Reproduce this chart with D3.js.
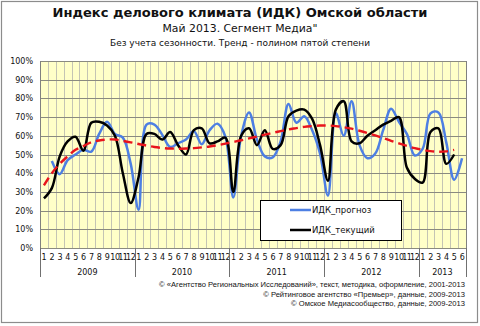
<!DOCTYPE html>
<html>
<head>
<meta charset="utf-8">
<script src="https://cdn.jsdelivr.net/npm/d3@7/dist/d3.min.js"></script>
<style>
  body { margin: 0; background: #fff; }
  svg { display: block; }
  text { font-family: "DejaVu Sans", Verdana, sans-serif; fill: #111; }
</style>
</head>
<body>
<script>
// ---- data ----
const yearLabels = ["2009", "2010", "2011", "2012", "2013"];
const monthsPerYear = [12, 12, 12, 12, 6];
const yTicks = [0, 10, 20, 30, 40, 50, 60, 70, 80, 90, 100];

// ИДК_прогноз (%), one value per month starting Jan 2009
const forecast = [
  null, 46.5, 39.5, 47, 50, 52.5, 51.5, 61, 67.5, 61, 59, 45,
  20.5, 66, 66, 60.5, 54, 56, 58, 62.5, 55.5, 63, 66.5, 59.5,
  27, 60, 72.5, 58, 49, 48.5, 57, 77, 67, 70.5, 63, 50.5,
  28, 72, 60, 78.5, 55, 48, 50.5, 63, 74.5, 67.5, 61, 49.5,
  53, 72, 72.5, 56.5, 36.5, 48
];
// ИДК_текущий (%)
const current = [
  26.5, 32, 49, 57, 59.5, 52, 67, 67.5, 65.5, 60, 40, 24,
  38, 61, 61, 58, 62, 55, 50, 63, 64, 56, 57, 59,
  30, 60, 64, 55, 63, 53, 55, 70.5, 73.5, 74, 69, 55,
  36, 74, 78.5, 57, 56, 60, 63, 66, 68, 70, 43, 37,
  35, 62, 64, 45, 50, null
];
// trend of ИДК_текущий (%)
const trend = [
  33.5, 40, 45, 49, 52.5, 54.5, 56.5, 57.5, 58, 58, 57.3, 56.5,
  55.6, 54.8, 54, 53.5, 53.2, 53.1, 53.2, 53.4, 53.8, 54.3, 55, 55.8,
  56.7, 57.6, 58.6, 59.6, 60.6, 61.6, 62.5, 63.4, 64.1, 64.8, 65.2, 65.5,
  65.5, 65.2, 64.6, 63.8, 62.7, 61.5, 60.2, 58.8, 57.3, 55.9, 54.6, 53.4,
  52.5, 51.8, 51.5, 51.7, 52.5, null
];

const seriesNames = ["ИДК_прогноз", "ИДК_текущий"];
const titleLines = [
  "Индекс делового климата (ИДК) Омской области",
  "Май 2013. Сегмент Медиа\"",
  "Без учета сезонности. Тренд - полином пятой степени"
];
const credits = [
  "© «Агентство Региональных Исследований», текст, методика, оформление, 2001-2013",
  "© Рейтинговое агентство «Премьер», данные, 2009-2013",
  "© Омское Медиасообщество, данные, 2009-2013"
];

// ---- layout ----
const W = 480, H = 326;
const plot = { left: 40, right: 466, top: 61, bottom: 248 };

// categories: one per month
const categories = [];
yearLabels.forEach((yr, yi) => {
  for (let m = 1; m <= monthsPerYear[yi]; m++) categories.push({ key: yr + "-" + m, month: m, year: yr });
});
const keys = categories.map(c => c.key);

const svg = d3.select("body").append("svg").attr("width", W).attr("height", H);

// outer frame
svg.append("rect").attr("x", 1.5).attr("y", 1.5).attr("width", W - 4).attr("height", H - 5)
  .attr("fill", "#fff").attr("stroke", "#8c8c8c").attr("stroke-width", 1.2);

const x = d3.scaleBand().domain(keys).range([plot.left, plot.right]).padding(0);
const bw = x.bandwidth();
const y = d3.scaleLinear().domain([0, 100]).range([plot.bottom, plot.top]);

// plot background
svg.append("rect").attr("x", plot.left).attr("y", plot.top)
  .attr("width", plot.right - plot.left).attr("height", plot.bottom - plot.top)
  .attr("fill", "#FFFFC8");

// vertical grid at month boundaries
const vb = keys.map(k => x(k)).concat([plot.right]);
svg.append("g").selectAll("line").data(vb).join("line")
  .attr("x1", d => Math.round(d) + 0.5).attr("x2", d => Math.round(d) + 0.5)
  .attr("y1", plot.top).attr("y2", plot.bottom)
  .attr("stroke", "#c4c4b4").attr("stroke-width", 1);

// horizontal grid
svg.append("g").selectAll("line").data(yTicks).join("line")
  .attr("x1", plot.left).attr("x2", plot.right)
  .attr("y1", d => Math.round(y(d)) + 0.5).attr("y2", d => Math.round(y(d)) + 0.5)
  .attr("stroke", "#8a8a80").attr("stroke-width", 1);

// left / right plot edges
svg.append("line").attr("x1", plot.left + 0.5).attr("x2", plot.left + 0.5)
  .attr("y1", plot.top).attr("y2", plot.bottom).attr("stroke", "#808080");
svg.append("line").attr("x1", Math.round(plot.right) + 0.5).attr("x2", Math.round(plot.right) + 0.5)
  .attr("y1", plot.top).attr("y2", plot.bottom).attr("stroke", "#808080");

// y axis labels
const yAxis = d3.axisLeft(y).tickValues(yTicks).tickFormat(d => d + "%").tickSize(0).tickPadding(7);
const gy = svg.append("g").attr("transform", `translate(${plot.left},0)`).call(yAxis);
gy.select(".domain").remove();
gy.selectAll("text").style("font-size", "8px").style("font-family", "DejaVu Sans, Verdana, sans-serif").attr("fill", "#222");

// x axis month labels
const xAxis = d3.axisBottom(x).tickFormat(k => categories[keys.indexOf(k)].month).tickSize(0).tickPadding(6);
const gx = svg.append("g").attr("transform", `translate(0,${plot.bottom})`).call(xAxis);
gx.select(".domain").remove();
gx.selectAll("text").style("font-size", "8px").style("font-family", "DejaVu Sans, Verdana, sans-serif")
  .attr("fill", "#222").attr("letter-spacing", "-0.4px");

// year separators and labels
let start = 0;
const yearBounds = [];
monthsPerYear.forEach((n, i) => {
  yearBounds.push({ x0: x(keys[start]), x1: start + n < keys.length ? x(keys[start + n]) : plot.right, label: yearLabels[i] });
  start += n;
});
svg.append("g").selectAll("line").data([yearBounds[0].x0].concat(yearBounds.map(b => b.x1))).join("line")
  .attr("x1", d => Math.round(d) + 0.5).attr("x2", d => Math.round(d) + 0.5)
  .attr("y1", plot.bottom).attr("y2", 277)
  .attr("stroke", "#707070").attr("stroke-width", 1);
svg.append("g").selectAll("text").data(yearBounds).join("text")
  .attr("x", d => (d.x0 + d.x1) / 2).attr("y", 275)
  .attr("text-anchor", "middle").style("font-size", "8px").attr("fill", "#222")
  .text(d => d.label);

// series
const cx = i => x(keys[i]) + bw / 2;
const line = d3.line().defined(d => d != null).x((d, i) => cx(i)).y(d => y(d))
  .curve(d3.curveCatmullRom.alpha(0.5));

svg.append("path").datum(forecast).attr("d", line)
  .attr("fill", "none").attr("stroke", "#4D7FE3").attr("stroke-width", 2.5)
  .attr("stroke-linejoin", "round");
svg.append("path").datum(current).attr("d", line)
  .attr("fill", "none").attr("stroke", "#000").attr("stroke-width", 2.5)
  .attr("stroke-linejoin", "round");
svg.append("path").datum(trend).attr("d", line)
  .attr("fill", "none").attr("stroke", "#E8141C").attr("stroke-width", 2.4)
  .attr("stroke-dasharray", "9,5");

// legend
const lg = svg.append("g");
lg.append("rect").attr("x", 260.5).attr("y", 200.5).attr("width", 141).attr("height", 40)
  .attr("fill", "#fff").attr("stroke", "#000").attr("stroke-width", 1);
const legendColors = ["#4D7FE3", "#000"];
seriesNames.forEach((name, i) => {
  const ly = 210 + i * 20;
  lg.append("line").attr("x1", 290).attr("x2", 311).attr("y1", ly).attr("y2", ly)
    .attr("stroke", legendColors[i]).attr("stroke-width", 2.5);
  lg.append("text").attr("x", 312).attr("y", ly + 3).style("font-size", "8.5px").attr("fill", "#111").text(name);
});

// titles
svg.append("text").attr("x", 240).attr("y", 17).attr("text-anchor", "middle")
  .style("font-size", "13px").style("font-weight", "bold").attr("fill", "#000")
  .attr("textLength", 375).attr("lengthAdjust", "spacingAndGlyphs").text(titleLines[0]);
svg.append("text").attr("x", 240).attr("y", 32).attr("text-anchor", "middle")
  .style("font-size", "11px").attr("fill", "#000")
  .attr("textLength", 155).attr("lengthAdjust", "spacingAndGlyphs").text(titleLines[1]);
svg.append("text").attr("x", 240).attr("y", 46).attr("text-anchor", "middle")
  .style("font-size", "8.5px").attr("fill", "#111")
  .attr("textLength", 260).attr("lengthAdjust", "spacingAndGlyphs").text(titleLines[2]);

// credits, right-aligned under the axis
credits.forEach((c, i) => {
  svg.append("text").attr("x", 465).attr("y", 287 + i * 9.7).attr("text-anchor", "end")
    .style("font-family", "'Liberation Sans', Arial, sans-serif")
    .style("font-size", "7.6px").attr("fill", "#111").text(c);
});
</script>
</body>
</html>
